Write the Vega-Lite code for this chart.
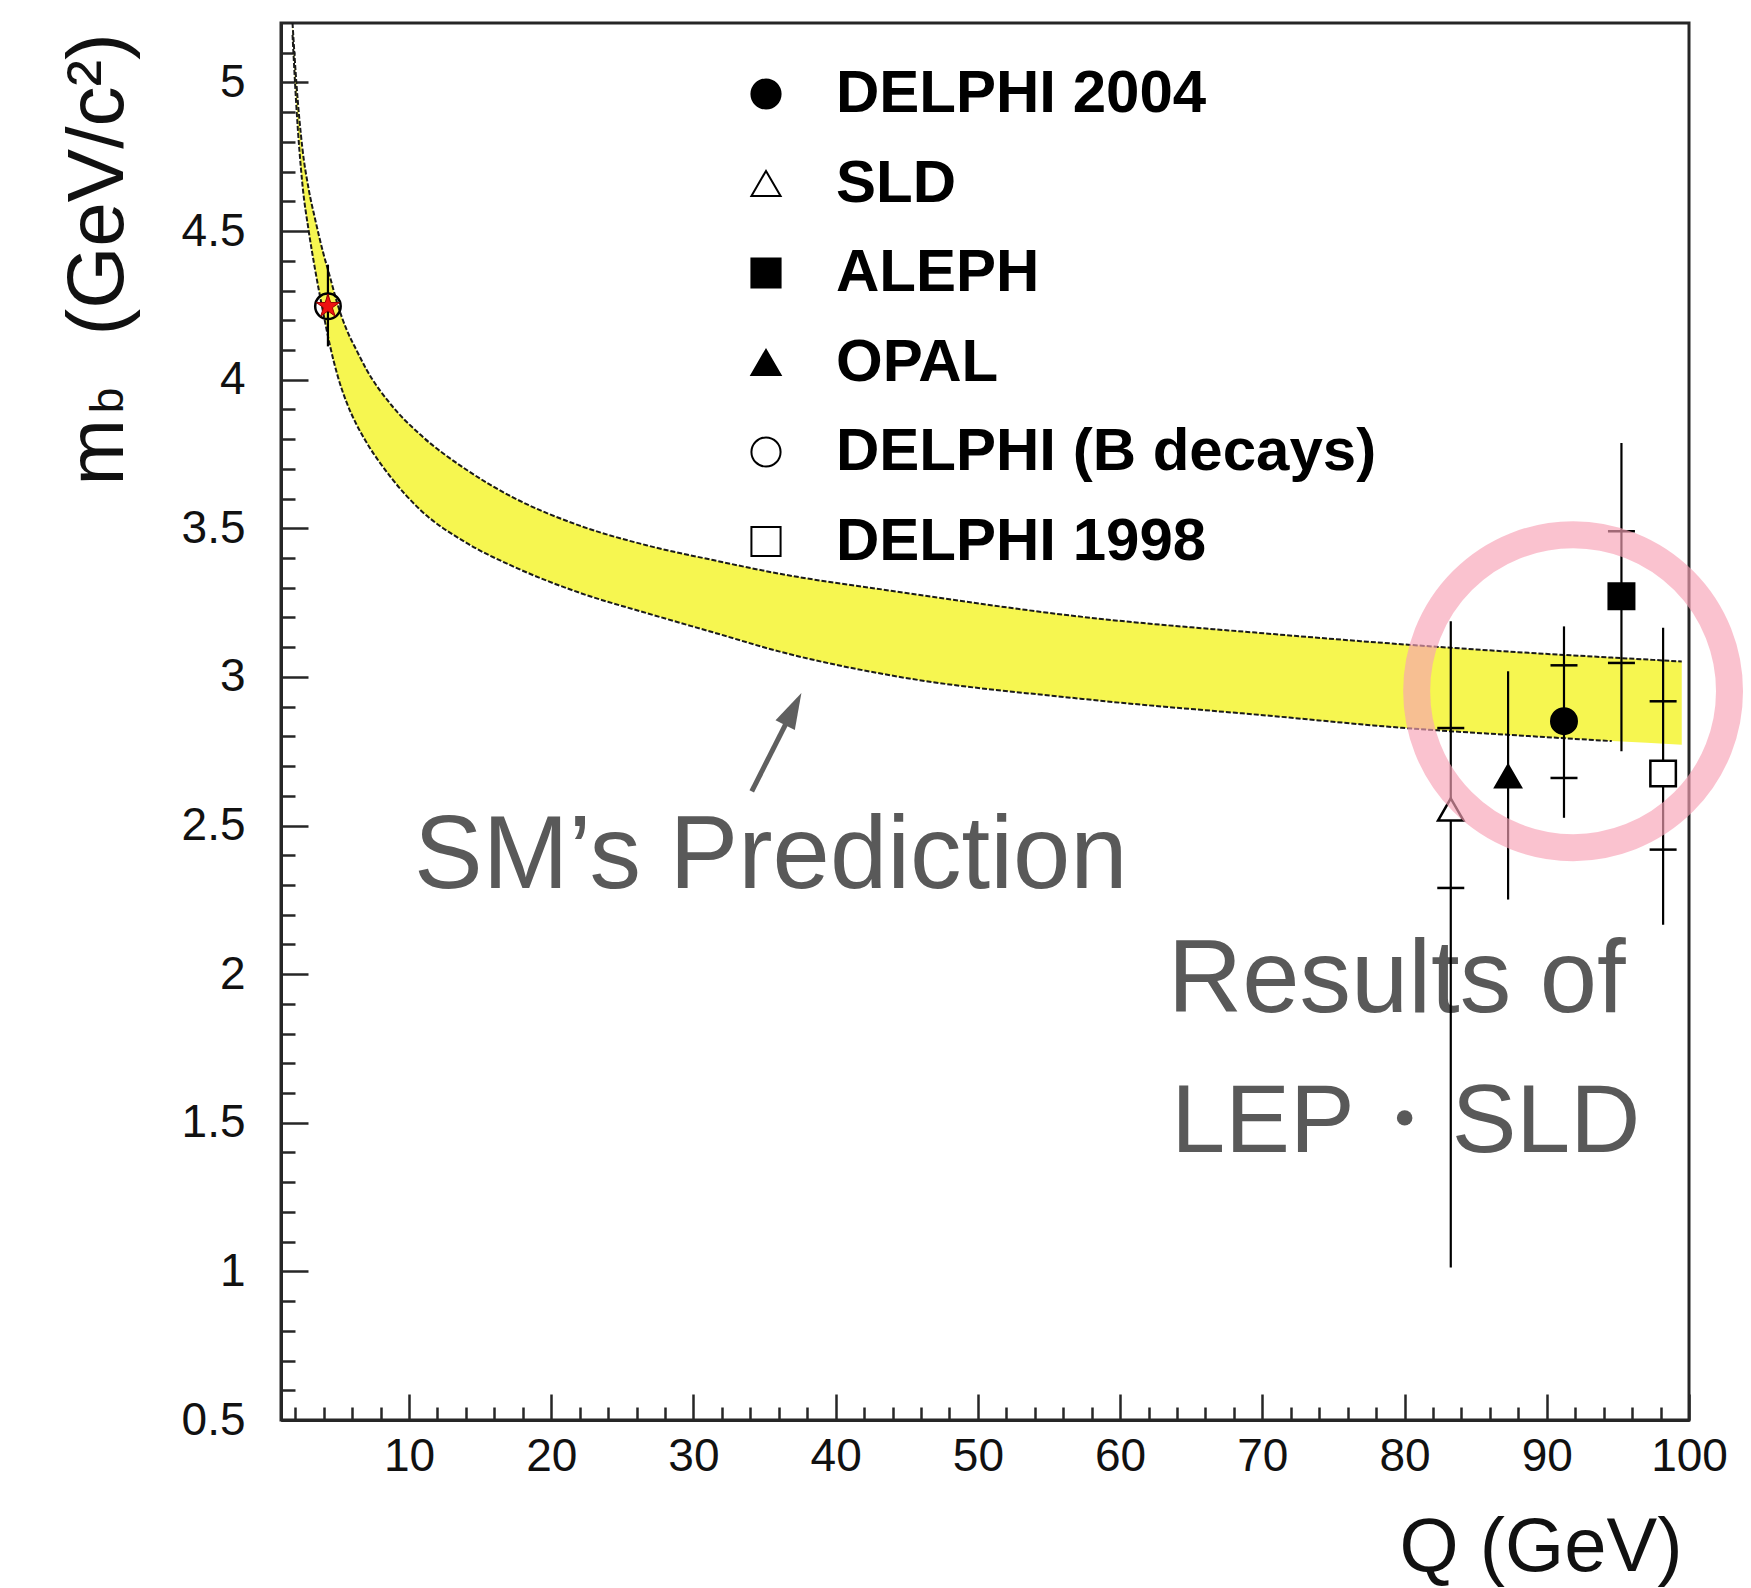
{
  "$schema": "https://vega.github.io/schema/vega-lite/v6.json",
  "width": 1408,
  "height": 1397,
  "autosize": {"type": "none"},
  "padding": {"left": 281, "top": 23, "right": 62, "bottom": 168},
  "background": "white",
  "config": {
    "view": {"stroke": "#262626", "strokeWidth": 3},
    "axis": {
      "domainColor": "#262626", "domainWidth": 3,
      "tickColor": "#262626", "tickWidth": 2.5,
      "labelFont": "Liberation Sans", "labelFontSize": 46, "labelColor": "#111111",
      "titleFont": "Liberation Sans", "titleFontWeight": "normal", "titleColor": "#111111",
      "grid": false, "labelFlush": false, "labelOverlap": false
    }
  },
  "datasets": {
    "band": [
      {"Q": 1.81, "lo": 5.16, "hi": 5.2},
      {"Q": 2.08, "lo": 4.92, "hi": 5.0},
      {"Q": 2.5, "lo": 4.66, "hi": 4.78},
      {"Q": 2.95, "lo": 4.5, "hi": 4.64},
      {"Q": 3.4, "lo": 4.37, "hi": 4.54},
      {"Q": 3.95, "lo": 4.23, "hi": 4.43},
      {"Q": 4.42, "lo": 4.12, "hi": 4.35},
      {"Q": 5.0, "lo": 4.01, "hi": 4.25},
      {"Q": 5.6, "lo": 3.925, "hi": 4.17},
      {"Q": 6.3, "lo": 3.85, "hi": 4.1},
      {"Q": 7.0, "lo": 3.79, "hi": 4.035},
      {"Q": 8.75, "lo": 3.67, "hi": 3.915},
      {"Q": 10.75, "lo": 3.564, "hi": 3.817},
      {"Q": 14.04, "lo": 3.451, "hi": 3.697},
      {"Q": 17.31, "lo": 3.372, "hi": 3.604},
      {"Q": 22.0, "lo": 3.283, "hi": 3.509},
      {"Q": 26.69, "lo": 3.215, "hi": 3.443},
      {"Q": 31.38, "lo": 3.15, "hi": 3.393},
      {"Q": 36.07, "lo": 3.085, "hi": 3.347},
      {"Q": 43.89, "lo": 3.005, "hi": 3.29},
      {"Q": 57.35, "lo": 2.926, "hi": 3.202},
      {"Q": 70.8, "lo": 2.868, "hi": 3.144},
      {"Q": 79.77, "lo": 2.829, "hi": 3.11},
      {"Q": 88.73, "lo": 2.801, "hi": 3.081},
      {"Q": 94.57, "lo": 2.784, "hi": 3.065},
      {"Q": 99.49, "lo": 2.772, "hi": 3.052}
    ],
    "points": [
      {"experiment": "DELPHI 2004", "Q": 91.21, "m": 2.851, "lo": 2.526, "hi": 3.17},
      {"experiment": "SLD", "Q": 83.25, "m": 2.554, "lo": 1.013, "hi": 3.187},
      {"experiment": "ALEPH", "Q": 95.25, "m": 3.271, "lo": 2.75, "hi": 3.787},
      {"experiment": "OPAL", "Q": 87.28, "m": 2.666, "lo": 2.251, "hi": 3.019},
      {"experiment": "DELPHI (B decays)", "Q": 4.3, "m": 4.247, "lo": 4.112, "hi": 4.387},
      {"experiment": "DELPHI 1998", "Q": 98.18, "m": 2.675, "lo": 2.166, "hi": 3.165}
    ],
    "stat": [
      {"Q": 83.25, "m": 2.828}, {"Q": 83.25, "m": 2.29},
      {"Q": 91.21, "m": 3.039}, {"Q": 91.21, "m": 2.66},
      {"Q": 95.25, "m": 3.49}, {"Q": 95.25, "m": 3.047},
      {"Q": 98.18, "m": 2.918}, {"Q": 98.18, "m": 2.419}
    ],
    "ring": [{"Q": 91.85, "m": 2.952}],
    "arrow": [{"Q": 34.1, "m": 2.615, "Q2": 37.02, "m2": 2.892}],
    "notes": [
      {"Q": 10.35, "m": 2.291, "label": "SM’s Prediction"},
      {"Q": 63.35, "m": 1.871, "label": "Results of"}
    ],
    "notes2": [
      {"Q": 63.6, "m": 1.4, "label": "LEP・SLD"}
    ]
  },
  "resolve": {"axis": {"x": "independent", "y": "independent"}},
  "layer": [
    {
      "data": {"name": "band"},
      "mark": {"type": "area", "interpolate": "monotone", "fill": "#f6f650", "opacity": 1},
      "encoding": {
        "x": {"field": "Q", "type": "quantitative",
          "scale": {"domain": [1, 100], "nice": false, "zero": false},
          "axis": {"orient": "bottom", "values": [10, 20, 30, 40, 50, 60, 70, 80, 90, 100], "format": "d",
            "tickSize": -26, "labelPadding": 40,
            "title": "Q (GeV)", "titleFontSize": 76, "titleX": 1401, "titleY": 150,
            "titleAlign": "right", "titleBaseline": "alphabetic"}},
        "y": {"field": "lo", "type": "quantitative",
          "scale": {"domain": [0.5, 5.2], "nice": false, "zero": false},
          "axis": {"orient": "left", "values": [0.5, 1, 1.5, 2, 2.5, 3, 3.5, 4, 4.5, 5], "format": "~g",
            "tickSize": -27, "labelPadding": 63,
            "title": "m", "titleFontSize": 80, "titleAngle": 270,
            "titleAlign": "left", "titleBaseline": "alphabetic", "titleX": -159, "titleY": 462}},
        "y2": {"field": "hi"}
      }
    },
    {
      "data": {"name": "band"},
      "mark": {"type": "line", "interpolate": "monotone", "stroke": "#1a1a1a", "strokeWidth": 2, "strokeDash": [5, 2]},
      "encoding": {
        "x": {"field": "Q", "type": "quantitative",
          "axis": {"orient": "bottom", "values": [2, 4, 6, 8, 12, 14, 16, 18, 22, 24, 26, 28, 32, 34, 36, 38, 42, 44, 46, 48, 52, 54, 56, 58, 62, 64, 66, 68, 72, 74, 76, 78, 82, 84, 86, 88, 92, 94, 96, 98],
            "labels": false, "tickSize": -13, "title": null}},
        "y": {"field": "hi", "type": "quantitative",
          "axis": {"orient": "left", "values": [0.6, 0.7, 0.8, 0.9, 1.1, 1.2, 1.3, 1.4, 1.6, 1.7, 1.8, 1.9, 2.1, 2.2, 2.3, 2.4, 2.6, 2.7, 2.8, 2.9, 3.1, 3.2, 3.3, 3.4, 3.6, 3.7, 3.8, 3.9, 4.1, 4.2, 4.3, 4.4, 4.6, 4.7, 4.8, 4.9, 5.1],
            "labels": false, "tickSize": -14,
            "title": "b", "titleFontSize": 46, "titleAngle": 270, "titleAlign": "center",
            "titleBaseline": "alphabetic", "titleX": -159, "titleY": 377}}
      }
    },
    {
      "data": {"name": "band"},
      "transform": [{"filter": "datum.Q <= 94.6"}],
      "mark": {"type": "line", "interpolate": "monotone", "stroke": "#1a1a1a", "strokeWidth": 2, "strokeDash": [5, 2]},
      "encoding": {
        "x": {"field": "Q", "type": "quantitative", "axis": null},
        "y": {"field": "lo", "type": "quantitative",
          "axis": {"orient": "left", "ticks": false, "labels": false, "domain": false,
            "title": "(GeV/c²)", "titleFontSize": 80, "titleAngle": 270, "titleAlign": "left",
            "titleBaseline": "alphabetic", "titleX": -159, "titleY": 312}}
      }
    },
    {
      "data": {"name": "notes"},
      "mark": {"type": "text", "align": "left", "baseline": "alphabetic", "font": "Liberation Sans", "fontSize": 103, "fill": "#595959"},
      "encoding": {
        "x": {"field": "Q", "type": "quantitative", "axis": null},
        "y": {"field": "m", "type": "quantitative", "axis": null},
        "text": {"field": "label"}
      }
    },
    {
      "data": {"name": "notes2"},
      "mark": {"type": "text", "align": "left", "baseline": "alphabetic", "font": "Liberation Sans", "fontSize": 97, "fill": "#595959"},
      "encoding": {
        "x": {"field": "Q", "type": "quantitative", "axis": null},
        "y": {"field": "m", "type": "quantitative", "axis": null},
        "text": {"field": "label"}
      }
    },
    {
      "data": {"name": "arrow"},
      "mark": {"type": "rule", "stroke": "#5f5f5f", "strokeWidth": 5},
      "encoding": {
        "x": {"field": "Q", "type": "quantitative", "axis": null},
        "y": {"field": "m", "type": "quantitative", "axis": null},
        "x2": {"field": "Q2"},
        "y2": {"field": "m2"}
      }
    },
    {
      "data": {"name": "arrow"},
      "mark": {"type": "point", "shape": "M0,-1L0.6,1L-0.6,1Z", "filled": true, "fill": "#5f5f5f", "strokeWidth": 0, "size": 1296, "angle": 26.8, "opacity": 1},
      "encoding": {
        "x": {"field": "Q2", "type": "quantitative", "axis": null},
        "y": {"field": "m2", "type": "quantitative", "axis": null}
      }
    },
    {
      "data": {"name": "points"},
      "mark": {"type": "rule", "stroke": "black", "strokeWidth": 2.2},
      "encoding": {
        "x": {"field": "Q", "type": "quantitative", "axis": null},
        "y": {"field": "lo", "type": "quantitative", "axis": null},
        "y2": {"field": "hi"}
      }
    },
    {
      "data": {"name": "stat"},
      "mark": {"type": "point", "shape": "stroke", "filled": false, "stroke": "black", "strokeWidth": 2.5, "size": 729, "opacity": 1},
      "encoding": {
        "x": {"field": "Q", "type": "quantitative", "axis": null},
        "y": {"field": "m", "type": "quantitative", "axis": null}
      }
    },
    {
      "data": {"name": "points"},
      "mark": {"type": "point", "filled": true, "strokeWidth": 2.5, "size": 650, "opacity": 1},
      "encoding": {
        "x": {"field": "Q", "type": "quantitative", "axis": null},
        "y": {"field": "m", "type": "quantitative", "axis": null},
        "shape": {"field": "experiment", "type": "nominal",
          "scale": {"domain": ["DELPHI 2004", "SLD", "ALEPH", "OPAL", "DELPHI (B decays)", "DELPHI 1998"],
            "range": ["circle", "triangle-up", "square", "triangle-up", "circle", "square"]},
          "legend": {"title": null, "orient": "none", "legendX": 455, "legendY": 41, "padding": 0,
            "labelFont": "Liberation Sans", "labelFontSize": 60, "labelFontWeight": "bold", "labelColor": "black",
            "labelLimit": 0, "labelOffset": 40, "rowPadding": 29.5, "symbolSize": 850,
            "symbolStrokeWidth": 2, "direction": "vertical"}},
        "fill": {"field": "experiment", "type": "nominal",
          "scale": {"domain": ["DELPHI 2004", "SLD", "ALEPH", "OPAL", "DELPHI (B decays)", "DELPHI 1998"],
            "range": ["black", "white", "black", "black", "transparent", "white"]},
          "legend": {"title": null, "orient": "none", "legendX": 455, "legendY": 41, "padding": 0,
            "labelFont": "Liberation Sans", "labelFontSize": 60, "labelFontWeight": "bold", "labelColor": "black",
            "labelLimit": 0, "labelOffset": 40, "rowPadding": 29.5, "symbolSize": 850,
            "symbolStrokeWidth": 2, "direction": "vertical"}},
        "stroke": {"field": "experiment", "type": "nominal",
          "scale": {"domain": ["DELPHI 2004", "SLD", "ALEPH", "OPAL", "DELPHI (B decays)", "DELPHI 1998"],
            "range": ["black", "black", "black", "black", "black", "black"]},
          "legend": {"title": null, "orient": "none", "legendX": 455, "legendY": 41, "padding": 0,
            "labelFont": "Liberation Sans", "labelFontSize": 60, "labelFontWeight": "bold", "labelColor": "black",
            "labelLimit": 0, "labelOffset": 40, "rowPadding": 29.5, "symbolSize": 850,
            "symbolStrokeWidth": 2, "direction": "vertical"}}
      }
    },
    {
      "data": {"name": "points"},
      "transform": [{"filter": "datum.experiment === 'DELPHI (B decays)'"}],
      "mark": {"type": "point", "shape": "M0,-1L0.2245,-0.309L0.951,-0.309L0.363,0.118L0.588,0.809L0,0.382L-0.588,0.809L-0.363,0.118L-0.951,-0.309L-0.2245,-0.309Z",
        "filled": true, "fill": "#ee1111", "stroke": "#9a0000", "strokeWidth": 1, "size": 600, "opacity": 1},
      "encoding": {
        "x": {"field": "Q", "type": "quantitative", "axis": null},
        "y": {"field": "m", "type": "quantitative", "axis": null}
      }
    },
    {
      "data": {"name": "ring"},
      "mark": {"type": "point", "shape": "circle", "filled": false, "stroke": "#f7a1b5", "strokeWidth": 27, "strokeOpacity": 0.65, "size": 97868, "opacity": 1},
      "encoding": {
        "x": {"field": "Q", "type": "quantitative", "axis": null},
        "y": {"field": "m", "type": "quantitative", "axis": null}
      }
    }
  ]
}
